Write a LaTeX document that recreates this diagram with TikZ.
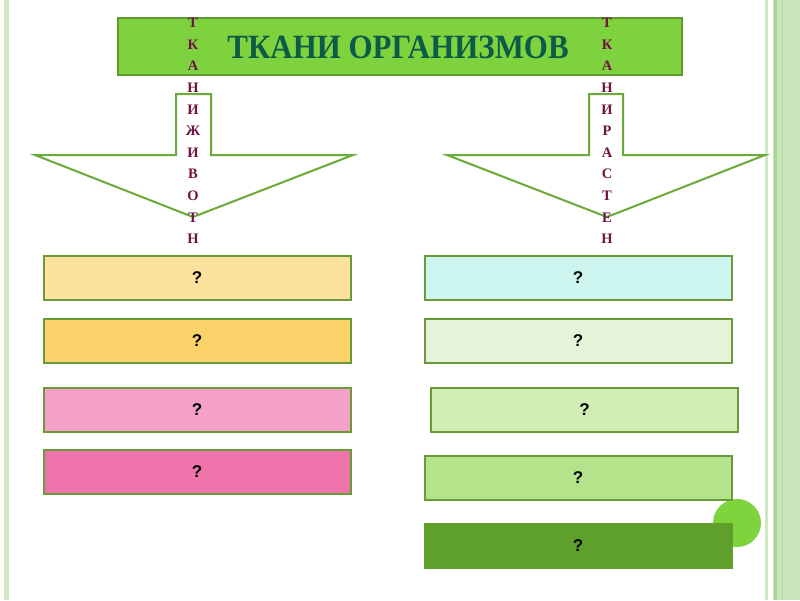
\documentclass[tikz,border=0pt]{standalone}
\usepackage{fontspec}
\setmainfont{Liberation Serif}
\newfontfamily\qfont{Liberation Sans}
\definecolor{titlefill}{HTML}{7ED23E}
\definecolor{titledraw}{HTML}{5E9A30}
\definecolor{titletext}{HTML}{0C5A48}
\definecolor{boxdraw}{HTML}{6A9A3A}
\definecolor{arrowdraw}{HTML}{6AAA38}
\definecolor{maroon}{HTML}{6E1440}
\definecolor{frameA}{HTML}{CFE9C4}
\definecolor{frameB}{HTML}{C8E6B9}
\definecolor{frameC}{HTML}{A9D792}
\definecolor{frameD}{HTML}{BBDFA9}
\definecolor{cA}{HTML}{FDE29E}
\definecolor{cB}{HTML}{FCD36B}
\definecolor{cC}{HTML}{F5A0C8}
\definecolor{cD}{HTML}{F074AC}
\definecolor{cE}{HTML}{CCF5F0}
\definecolor{cF}{HTML}{E5F4D9}
\definecolor{cG}{HTML}{D0EDB6}
\definecolor{cH}{HTML}{B3E38A}
\definecolor{cI}{HTML}{5FA02A}
\definecolor{dotc}{HTML}{7ED43C}
\begin{document}
\begin{tikzpicture}[x=1pt,y=-1pt,
  qbox/.style={draw=boxdraw, line width=2pt, minimum width=307pt, minimum height=44pt, inner sep=0pt,
    font=\qfont\bfseries\fontsize{17}{18}\selectfont},
  vlet/.style={text=maroon, align=center, inner sep=0pt, font=\bfseries\fontsize{14.5}{21.6}\selectfont},
  arrowshape/.style={draw=arrowdraw, line width=2pt, fill=white, line join=miter}]
\useasboundingbox (0,0) rectangle (800,600);
% frame
\fill[frameA] (4,0) rectangle (9,600);
\fill[frameA] (765,0) rectangle (768,600);
\fill[frameB] (773,0) rectangle (800,600);
\fill[frameC] (774,0) rectangle (777,600);
\fill[frameD] (781,0) rectangle (783,600);
% title
\node[draw=titledraw, line width=1.5pt, fill=titlefill, minimum width=564pt, minimum height=57pt, inner sep=0pt] (title) at (400,46.5) {};
\node[text=titletext, font=\bfseries\fontsize{34}{36}\selectfont, xscale=0.91, inner sep=0pt] (titletxt) at (398,47) {ТКАНИ ОРГАНИЗМОВ};
% arrows
\draw[arrowshape] (176,94) -- (211,94) -- (211,155) -- (353,155) -- (193,217) -- (35,155) -- (176,155) -- cycle;
\draw[arrowshape] (589,94) -- (623,94) -- (623,155) -- (765,155) -- (607,217) -- (447,155) -- (589,155) -- cycle;
% vertical labels
\node[vlet] (animals) at (193,131) {Т\\К\\А\\Н\\И\\Ж\\И\\В\\О\\Т\\Н};
\node[vlet] (plants) at (607,131) {Т\\К\\А\\Н\\И\\Р\\А\\С\\Т\\Е\\Н};
% left boxes
\node[qbox, fill=cA] (l1) at (197,278) {?};
\node[qbox, fill=cB] (l2) at (197,340.5) {?};
\node[qbox, fill=cC] (l3) at (197,409.5) {?};
\node[qbox, fill=cD] (l4) at (197,471.5) {?};
% right boxes
\node[circle, fill=dotc, minimum size=48pt, inner sep=0pt] (dot) at (737,523) {};
\node[qbox, fill=cE] (r1) at (578,278) {?};
\node[qbox, fill=cF] (r2) at (578,340.5) {?};
\node[qbox, fill=cG] (r3) at (584.5,409.5) {?};
\node[qbox, fill=cH] (r4) at (578,478) {?};
\node[qbox, fill=cI, draw=cI] (r5) at (578,546) {?};
\end{tikzpicture}
\end{document}
